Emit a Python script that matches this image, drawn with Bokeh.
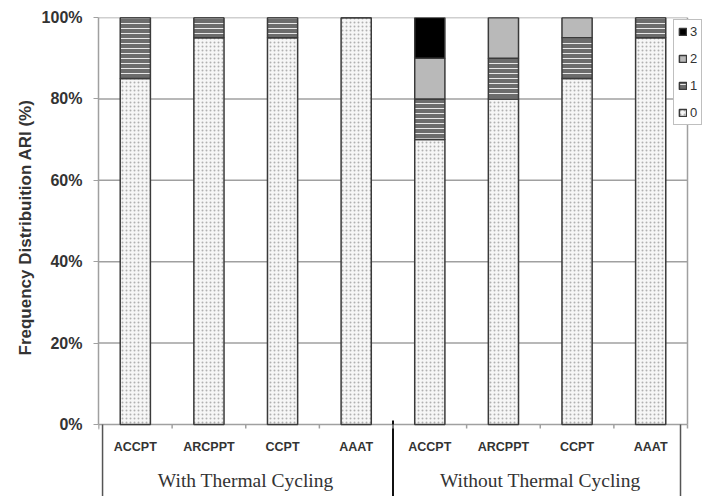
from bokeh.plotting import figure
from bokeh.models import ColumnDataSource, Legend, LegendItem, FixedTicker, Range1d, Title
from bokeh.core.properties import value
from bokeh.embed import file_html
from bokeh.resources import INLINE

groups = ["With Thermal Cycling", "Without Thermal Cycling"]
materials = ["ACCPT", "ARCPPT", "CCPT", "AAAT"]
ari_0 = [85, 95, 95, 100, 70, 80, 85, 95]
ari_1 = [15, 5, 5, 0, 10, 10, 10, 5]
ari_2 = [0, 0, 0, 0, 10, 10, 5, 0]
ari_3 = [0, 0, 0, 0, 10, 0, 0, 0]
series_labels = ["0", "1", "2", "3"]
y_ticks = [0, 20, 40, 60, 80, 100]
y_tick_labels = ["0%", "20%", "40%", "60%", "80%", "100%"]
y_title = "Frequency Distribuition ARI (%)"

factors = [(g, m) for g in groups for m in materials]
n = len(materials)
total = len(factors)
xpos = [i + 0.5 for i in range(total)]
src = ColumnDataSource(dict(x=xpos, s0=ari_0, s1=ari_1, s2=ari_2, s3=ari_3))

GRID = "#a0a0a0"
TXT = "#333333"

# pixel layout: plot area 98..687 x 17..424; category panel 424..496
PX_PER_UNIT = (424 - 17) / 100.0
def dy(px):  # pixels below the 0% line -> data units
    return -px / PX_PER_UNIT

xr = Range1d(0, total * (702 - 98) / (687 - 98))
yr = Range1d(dy(496 - 424), 100)

p = figure(width=702, height=496, x_range=xr, y_range=yr,
           output_backend="svg", toolbar_location=None,
           min_border_left=98, min_border_right=0, min_border_top=17, min_border_bottom=0)
p.outline_line_color = None
p.background_fill_color = "white"
p.border_fill_color = "white"
p.xaxis.visible = False
p.grid.grid_line_color = None

# horizontal grid lines and right plot border
p.segment(x0=[0] * len(y_ticks), y0=y_ticks, x1=[total] * len(y_ticks), y1=y_ticks,
          line_color=GRID, line_width=1.5, level="underlay")
p.segment(x0=[total], y0=[0], x1=[total], y1=[100], line_color=GRID, line_width=1.5,
          level="underlay")
p.segment(x0=[0], y0=[dy(5)], x1=[0], y1=[0], line_color=GRID, line_width=1.5)

rs = p.vbar_stack(["s0", "s1", "s2", "s3"], x="x", width=0.41, source=src,
                  line_color="#3a3a3a", line_width=1.5, fill_color="white")
styles = [
    dict(fill_color="#f6f6f6", hatch_pattern=".", hatch_color="#b0b0b0", hatch_scale=4, hatch_weight=1),
    dict(fill_color="#6c6c6c", hatch_pattern="-", hatch_color="#e8e8e8", hatch_scale=5, hatch_weight=1),
    dict(fill_color="#b9b9b9"),
    dict(fill_color="#000000"),
]
for r, st in zip(rs, styles):
    for k, v in st.items():
        setattr(r.glyph, k, v)

legend = Legend(items=[LegendItem(label=series_labels[i], renderers=[rs[i]]) for i in [3, 2, 1, 0]],
                location=(575, 371), orientation="vertical",
                border_line_color="#808080", border_line_width=1,
                background_fill_color="white", background_fill_alpha=1,
                padding=4, spacing=12, label_height=14, label_width=7,
                glyph_height=9, glyph_width=9,
                label_text_font="Liberation Sans", label_text_font_size="13px",
                label_text_color=TXT, label_standoff=3, margin=0)
p.add_layout(legend, "center")

# y axis (limited to 0..100)
p.yaxis.bounds = (0, 100)
p.yaxis.ticker = FixedTicker(ticks=y_ticks)
p.yaxis.major_label_overrides = {t: l for t, l in zip(y_ticks, y_tick_labels)}
p.yaxis.major_label_text_font = "Liberation Sans"
p.yaxis.major_label_text_font_style = "bold"
p.yaxis.major_label_text_font_size = "16px"
p.yaxis.major_label_text_color = TXT
p.yaxis.major_label_standoff = 11
p.yaxis.major_tick_out = 5
p.yaxis.major_tick_in = 0
p.yaxis.minor_tick_line_color = None
p.yaxis.major_tick_line_color = GRID
p.yaxis.axis_line_color = GRID
p.yaxis.axis_line_width = 1.5

# y axis title, centred on the 0..100 part (bottom of the text 141 px above the canvas bottom)
p.add_layout(Title(text=y_title, align="left", offset=141, vertical_align="middle",
                   text_font="Liberation Sans", text_font_style="bold",
                   text_font_size="17px", text_color=TXT, standoff=6), "left")

# category labels under the plot
mat_src = ColumnDataSource(dict(x=xpos, y=[dy(22)] * total, t=[f[1] for f in factors]))
p.text(x="x", y="y", text="t", source=mat_src, text_align="center", text_baseline="middle",
       text_font=value("Liberation Sans"), text_font_style="bold", text_font_size="12.5px",
       text_color=TXT)
grp_x = [gi * n + n / 2 for gi in range(len(groups))]
grp_src = ColumnDataSource(dict(x=grp_x, y=[dy(56)] * len(groups), t=groups))
p.text(x="x", y="y", text="t", source=grp_src, text_align="center", text_baseline="middle",
       text_font=value("Liberation Serif"), text_font_size="19.5px", text_color=TXT)

# box lines (left edge, group separator, right edge) and boundary ticks
bottom = dy(496 - 424)
p.segment(x0=[0.055, float(n), total - 0.095], y0=[0, 1, 0],
          x1=[0.055, float(n), total - 0.095], y1=[bottom] * 3,
          line_color=["#555555", "#111111", "#555555"], line_width=[1.5, 2, 1.5])
ks = [float(k) for k in range(total + 1)]
p.segment(x0=ks, y0=[0] * len(ks), x1=ks, y1=[dy(4)] * len(ks), line_color=GRID, line_width=1.5)

open("out.html", "w").write(file_html(p, INLINE))
